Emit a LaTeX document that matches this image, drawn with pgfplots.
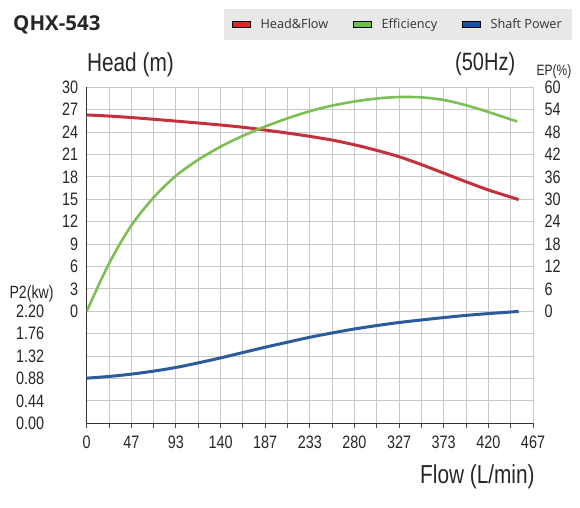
\documentclass[border=0pt]{standalone}
\usepackage{pgfplots}
\pgfplotsset{compat=1.18}
\usepackage{fontspec}
\setmainfont{Liberation Sans}
\newfontfamily\narrowfont[FakeStretch=0.8]{Liberation Sans}
\newfontfamily\osfont{Open Sans}

\definecolor{hred}{HTML}{C5313A}
\definecolor{hgreen}{HTML}{7DBE55}
\definecolor{hblue}{HTML}{2B5B99}
\definecolor{lred}{HTML}{E6212B}
\definecolor{lgreen}{HTML}{6CBF4A}
\definecolor{lblue}{HTML}{1750A8}
\definecolor{lgray}{HTML}{E8E8E8}
\definecolor{gridgray}{HTML}{C8C8C8}

\pgfplotsset{
  base/.style={
    scale only axis, width=446.3pt, height=336pt,
    at={(86.7pt,83.7pt)}, anchor=south west,
    xmin=0, xmax=467,
    /pgf/number format/assume math mode=true,
    tick label style={font=\narrowfont\fontsize{18}{18}\selectfont, text=black!85},
  },
}

\begin{document}
\begin{tikzpicture}
\useasboundingbox (0,0) rectangle (580pt,507pt);

% head axis, grid and legend
\begin{axis}[base,
  ymin=-15, ymax=30,
  xtick={0,46.7,93.4,140.1,186.8,233.5,280.2,326.9,373.6,420.3,467},
  xticklabels={0,47,93,140,187,233,280,327,373,420,467},
  minor xtick={23.35,70.05,116.75,163.45,210.15,256.85,303.55,350.25,396.95,443.65},
  ytick={-15,-12,...,30},
  yticklabels={,,,,,0,3,6,9,12,15,18,21,24,27,30},
  grid=both,
  grid style={draw=gridgray, line width=1pt},
  minor grid style={draw=gridgray, line width=1pt},
  axis x line*=bottom, axis y line*=left,
  axis line style={draw=black!80, line width=1.5pt},
  tick align=outside, major tick length=5pt, minor tick length=5pt,
  xtick style={draw=black!70, line width=1pt},
  minor x tick style={draw=black!70, line width=1pt},
  ytick style={draw=none},
  xticklabel style={yshift=-4pt},
  legend columns=3,
  legend image code/.code={\fill[#1] (0pt,-3pt) rectangle (18pt,3pt);},
  legend style={at={(0.3076,1.2351)}, anchor=north west,
    fill=lgray, draw=none, text=black!80,
    font=\osfont\fontsize{12.7}{14}\selectfont,
    inner xsep=8pt, inner ysep=8pt,
    /tikz/every odd column/.append style={column sep=8pt},
    /tikz/every even column/.append style={column sep=23pt}},
]
\addlegendimage{fill=lred}\addlegendentry{Head\&Flow}
\addlegendimage{fill=lgreen}\addlegendentry{Efficiency}
\addlegendimage{fill=lblue}\addlegendentry{Shaft Power}
\addplot[hred, line width=3pt, smooth, forget plot] coordinates {
  (0,26.3) (23.35,26.15) (46.7,25.95) (70.05,25.72) (93.4,25.47)
  (116.75,25.22) (140.1,24.95) (163.45,24.65) (186.8,24.27) (210.15,23.87)
  (233.5,23.43) (256.85,22.93) (280.2,22.3) (303.55,21.55) (326.9,20.7)
  (350.25,19.65) (373.6,18.5) (396.95,17.35) (420.3,16.25) (443.65,15.3)
  (452,14.95)
};
\end{axis}

% shaft power axis
\begin{axis}[base,
  ymin=0, ymax=6.6,
  ytick={0,0.44,0.88,1.32,1.76,2.2},
  yticklabel style={xshift=-39pt,
    /pgf/number format/fixed,
    /pgf/number format/fixed zerofill,
    /pgf/number format/precision=2},
  hide x axis,
  axis y line*=left,
  axis line style={draw=none},
  ytick style={draw=none},
]
\addplot[hblue, line width=3pt, smooth] coordinates {
  (0,0.887) (23.35,0.92) (46.7,0.966) (70.05,1.025) (93.4,1.097)
  (116.75,1.187) (140.1,1.285) (163.45,1.39) (186.8,1.495) (210.15,1.593)
  (233.5,1.69) (256.85,1.775) (280.2,1.853) (303.55,1.92) (326.9,1.98)
  (350.25,2.03) (373.6,2.077) (396.95,2.12) (420.3,2.155) (443.65,2.186)
  (452,2.20)
};
\end{axis}

% efficiency axis
\begin{axis}[base,
  ymin=-30, ymax=60,
  ytick={0,6,...,60},
  hide x axis,
  axis y line*=right,
  axis line style={draw=none},
  ytick style={draw=none},
  yticklabel style={xshift=8pt},
]
\addplot[hgreen, line width=2.6pt, smooth] coordinates {
  (0,0) (23.35,12.8) (46.7,23.0) (70.05,30.5) (93.4,36.3)
  (116.75,40.6) (140.1,44.1) (163.45,47.0) (186.8,49.5) (210.15,51.7)
  (233.5,53.6) (256.85,55.1) (280.2,56.2) (303.55,57.0) (326.9,57.4)
  (350.25,57.3) (373.6,56.6) (396.95,55.2) (420.3,53.4) (443.65,51.4)
  (450.5,50.9)
};
\end{axis}

\node[anchor=base west, inner sep=0pt, font=\osfont\bfseries\fontsize{20.5}{20.5}\selectfont, text=black!85] at (13pt,476.3pt) {QHX-543};
\node[anchor=base west, inner sep=0pt, font=\narrowfont\fontsize{26}{26}\selectfont, text=black!85] at (86.9pt,435pt) {Head (m)};
\node[anchor=base west, inner sep=0pt, font=\narrowfont\fontsize{25}{25}\selectfont, text=black!85] at (455pt,436pt) {(50Hz)};
\node[anchor=base west, inner sep=0pt, font=\narrowfont\fontsize{15}{15}\selectfont, text=black!85] at (536.5pt,431pt) {EP(\%)};
\node[anchor=base west, inner sep=0pt, font=\narrowfont\fontsize{17.7}{17.7}\selectfont, text=black!85] at (9.3pt,209pt) {P2(kw)};
\node[anchor=base west, inner sep=0pt, font=\narrowfont\fontsize{26}{26}\selectfont, text=black!85] at (420pt,24pt) {Flow (L/min)};
\end{tikzpicture}
\end{document}
